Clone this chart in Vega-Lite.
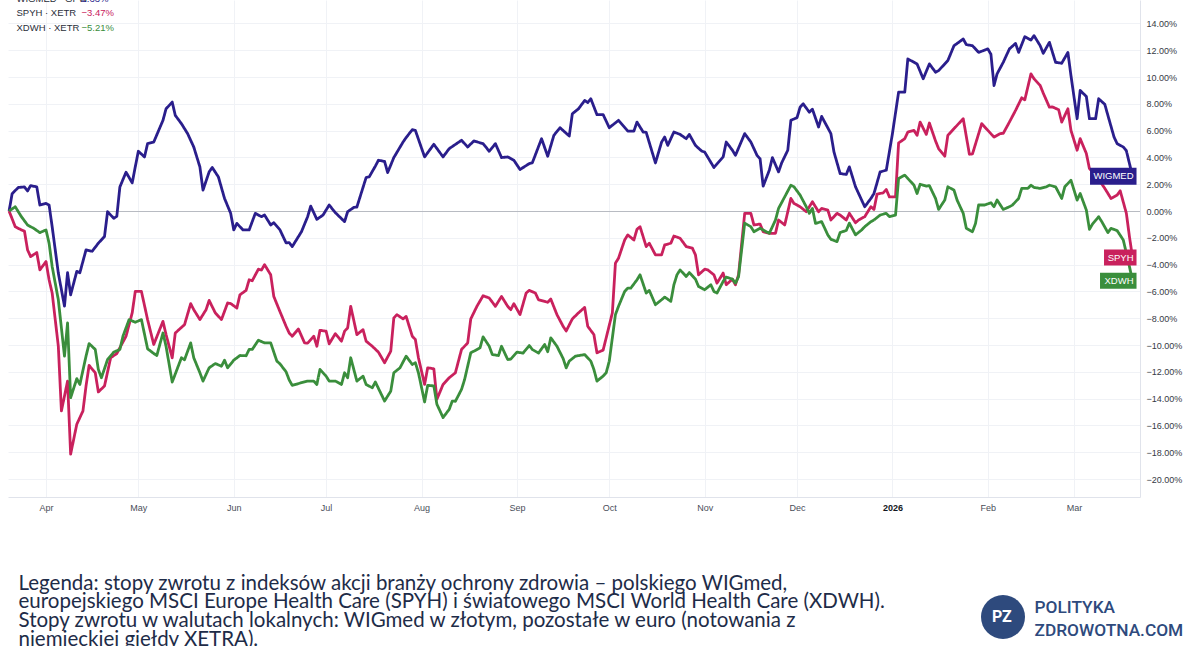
{
"$schema": "https://vega.github.io/schema/vega-lite/v6.json",
"width": 1132, "height": 497,
"autosize": {"type": "none"},
"padding": {"left": 8, "top": 0, "right": 60, "bottom": 149},
"background": "white",
"config": {"view": {"stroke": null}, "font": "Liberation Sans"},
"datasets": {
"lines": [
{"date":"2025-03-20","series":"WIGMED","value":0},{"date":"2025-03-21","series":"WIGMED","value":1.3},{"date":"2025-03-23","series":"WIGMED","value":1.76},{"date":"2025-03-25","series":"WIGMED","value":1.8},{"date":"2025-03-26","series":"WIGMED","value":1.5},{"date":"2025-03-27","series":"WIGMED","value":1.9},{"date":"2025-03-29","series":"WIGMED","value":1.8},{"date":"2025-03-30","series":"WIGMED","value":0.45},{"date":"2025-04-01","series":"WIGMED","value":0.57},{"date":"2025-04-02","series":"WIGMED","value":0.45},{"date":"2025-04-03","series":"WIGMED","value":-1.17},{"date":"2025-04-05","series":"WIGMED","value":-4.63},{"date":"2025-04-07","series":"WIGMED","value":-7.1},{"date":"2025-04-08","series":"WIGMED","value":-4.6},{"date":"2025-04-09","series":"WIGMED","value":-6.25},{"date":"2025-04-11","series":"WIGMED","value":-4.5},{"date":"2025-04-12","series":"WIGMED","value":-4.6},{"date":"2025-04-14","series":"WIGMED","value":-2.9},{"date":"2025-04-16","series":"WIGMED","value":-3.0},{"date":"2025-04-18","series":"WIGMED","value":-2.4},{"date":"2025-04-20","series":"WIGMED","value":-1.9},{"date":"2025-04-21","series":"WIGMED","value":-0.05},{"date":"2025-04-23","series":"WIGMED","value":-0.54},{"date":"2025-04-24","series":"WIGMED","value":-0.4},{"date":"2025-04-25","series":"WIGMED","value":1.8},{"date":"2025-04-27","series":"WIGMED","value":2.9},{"date":"2025-04-29","series":"WIGMED","value":2.1},{"date":"2025-04-30","series":"WIGMED","value":3.3},{"date":"2025-05-01","series":"WIGMED","value":4.46},{"date":"2025-05-03","series":"WIGMED","value":4.04},{"date":"2025-05-04","series":"WIGMED","value":5.03},{"date":"2025-05-06","series":"WIGMED","value":5.15},{"date":"2025-05-09","series":"WIGMED","value":6.77},{"date":"2025-05-10","series":"WIGMED","value":7.63},{"date":"2025-05-12","series":"WIGMED","value":8.13},{"date":"2025-05-13","series":"WIGMED","value":7.14},{"date":"2025-05-15","series":"WIGMED","value":6.52},{"date":"2025-05-17","series":"WIGMED","value":5.78},{"date":"2025-05-19","series":"WIGMED","value":4.78},{"date":"2025-05-21","series":"WIGMED","value":3.29},{"date":"2025-05-22","series":"WIGMED","value":1.56},{"date":"2025-05-24","series":"WIGMED","value":2.92},{"date":"2025-05-25","series":"WIGMED","value":3.25},{"date":"2025-05-27","series":"WIGMED","value":2.55},{"date":"2025-05-29","series":"WIGMED","value":0.94},{"date":"2025-05-31","series":"WIGMED","value":-0.17},{"date":"2025-06-01","series":"WIGMED","value":-1.41},{"date":"2025-06-02","series":"WIGMED","value":-0.92},{"date":"2025-06-04","series":"WIGMED","value":-1.41},{"date":"2025-06-06","series":"WIGMED","value":-1.41},{"date":"2025-06-08","series":"WIGMED","value":-0.17},{"date":"2025-06-10","series":"WIGMED","value":-0.42},{"date":"2025-06-11","series":"WIGMED","value":-0.3},{"date":"2025-06-13","series":"WIGMED","value":-1.04},{"date":"2025-06-14","series":"WIGMED","value":-0.87},{"date":"2025-06-16","series":"WIGMED","value":-1.4},{"date":"2025-06-18","series":"WIGMED","value":-2.38},{"date":"2025-06-19","series":"WIGMED","value":-2.35},{"date":"2025-06-20","series":"WIGMED","value":-2.65},{"date":"2025-06-23","series":"WIGMED","value":-1.54},{"date":"2025-06-25","series":"WIGMED","value":-0.42},{"date":"2025-06-26","series":"WIGMED","value":0.37},{"date":"2025-06-28","series":"WIGMED","value":-0.62},{"date":"2025-06-30","series":"WIGMED","value":-0.3},{"date":"2025-07-02","series":"WIGMED","value":0.45},{"date":"2025-07-04","series":"WIGMED","value":-0.12},{"date":"2025-07-07","series":"WIGMED","value":-0.79},{"date":"2025-07-08","series":"WIGMED","value":-0.05},{"date":"2025-07-10","series":"WIGMED","value":0.27},{"date":"2025-07-11","series":"WIGMED","value":0.3},{"date":"2025-07-14","series":"WIGMED","value":2.5},{"date":"2025-07-15","series":"WIGMED","value":2.55},{"date":"2025-07-17","series":"WIGMED","value":3.35},{"date":"2025-07-18","series":"WIGMED","value":3.79},{"date":"2025-07-20","series":"WIGMED","value":3.7},{"date":"2025-07-21","series":"WIGMED","value":2.87},{"date":"2025-07-23","series":"WIGMED","value":3.99},{"date":"2025-07-26","series":"WIGMED","value":5.15},{"date":"2025-07-27","series":"WIGMED","value":5.48},{"date":"2025-07-29","series":"WIGMED","value":6.07},{"date":"2025-07-30","series":"WIGMED","value":6.02},{"date":"2025-08-02","series":"WIGMED","value":4.04},{"date":"2025-08-05","series":"WIGMED","value":4.98},{"date":"2025-08-08","series":"WIGMED","value":4.04},{"date":"2025-08-10","series":"WIGMED","value":4.66},{"date":"2025-08-14","series":"WIGMED","value":5.28},{"date":"2025-08-16","series":"WIGMED","value":4.78},{"date":"2025-08-18","series":"WIGMED","value":5.23},{"date":"2025-08-21","series":"WIGMED","value":5.03},{"date":"2025-08-23","series":"WIGMED","value":4.46},{"date":"2025-08-25","series":"WIGMED","value":5.03},{"date":"2025-08-27","series":"WIGMED","value":3.99},{"date":"2025-08-29","series":"WIGMED","value":4.04},{"date":"2025-08-31","series":"WIGMED","value":3.79},{"date":"2025-09-02","series":"WIGMED","value":3.1},{"date":"2025-09-05","series":"WIGMED","value":3.54},{"date":"2025-09-06","series":"WIGMED","value":3.6},{"date":"2025-09-09","series":"WIGMED","value":5.4},{"date":"2025-09-11","series":"WIGMED","value":4.09},{"date":"2025-09-13","series":"WIGMED","value":5.65},{"date":"2025-09-15","series":"WIGMED","value":6.22},{"date":"2025-09-18","series":"WIGMED","value":5.6},{"date":"2025-09-19","series":"WIGMED","value":7.26},{"date":"2025-09-21","series":"WIGMED","value":7.63},{"date":"2025-09-23","series":"WIGMED","value":8.25},{"date":"2025-09-24","series":"WIGMED","value":8.1},{"date":"2025-09-25","series":"WIGMED","value":8.38},{"date":"2025-09-27","series":"WIGMED","value":7.19},{"date":"2025-09-29","series":"WIGMED","value":7.2},{"date":"2025-10-01","series":"WIGMED","value":6.22},{"date":"2025-10-04","series":"WIGMED","value":6.77},{"date":"2025-10-07","series":"WIGMED","value":5.97},{"date":"2025-10-09","series":"WIGMED","value":5.97},{"date":"2025-10-10","series":"WIGMED","value":6.64},{"date":"2025-10-12","series":"WIGMED","value":5.9},{"date":"2025-10-13","series":"WIGMED","value":5.87},{"date":"2025-10-16","series":"WIGMED","value":3.59},{"date":"2025-10-18","series":"WIGMED","value":5.15},{"date":"2025-10-19","series":"WIGMED","value":5.52},{"date":"2025-10-20","series":"WIGMED","value":4.9},{"date":"2025-10-22","series":"WIGMED","value":5.9},{"date":"2025-10-24","series":"WIGMED","value":5.72},{"date":"2025-10-26","series":"WIGMED","value":5.4},{"date":"2025-10-27","series":"WIGMED","value":5.72},{"date":"2025-10-29","series":"WIGMED","value":4.9},{"date":"2025-10-31","series":"WIGMED","value":4.48},{"date":"2025-11-01","series":"WIGMED","value":4.4},{"date":"2025-11-04","series":"WIGMED","value":3.25},{"date":"2025-11-07","series":"WIGMED","value":4.04},{"date":"2025-11-08","series":"WIGMED","value":5.15},{"date":"2025-11-10","series":"WIGMED","value":4.54},{"date":"2025-11-11","series":"WIGMED","value":4.16},{"date":"2025-11-14","series":"WIGMED","value":5.78},{"date":"2025-11-16","series":"WIGMED","value":5.15},{"date":"2025-11-18","series":"WIGMED","value":4.16},{"date":"2025-11-19","series":"WIGMED","value":3.9},{"date":"2025-11-20","series":"WIGMED","value":1.86},{"date":"2025-11-22","series":"WIGMED","value":3.05},{"date":"2025-11-23","series":"WIGMED","value":3.99},{"date":"2025-11-25","series":"WIGMED","value":2.92},{"date":"2025-11-26","series":"WIGMED","value":3.59},{"date":"2025-11-28","series":"WIGMED","value":4.54},{"date":"2025-11-29","series":"WIGMED","value":6.77},{"date":"2025-12-01","series":"WIGMED","value":6.97},{"date":"2025-12-02","series":"WIGMED","value":7.75},{"date":"2025-12-03","series":"WIGMED","value":8.0},{"date":"2025-12-05","series":"WIGMED","value":7.38},{"date":"2025-12-06","series":"WIGMED","value":7.6},{"date":"2025-12-08","series":"WIGMED","value":6.27},{"date":"2025-12-09","series":"WIGMED","value":7.06},{"date":"2025-12-12","series":"WIGMED","value":5.78},{"date":"2025-12-13","series":"WIGMED","value":4.41},{"date":"2025-12-15","series":"WIGMED","value":2.8},{"date":"2025-12-17","series":"WIGMED","value":2.73},{"date":"2025-12-18","series":"WIGMED","value":3.3},{"date":"2025-12-20","series":"WIGMED","value":1.81},{"date":"2025-12-23","series":"WIGMED","value":0.32},{"date":"2025-12-25","series":"WIGMED","value":0.94},{"date":"2025-12-26","series":"WIGMED","value":1.31},{"date":"2025-12-28","series":"WIGMED","value":2.92},{"date":"2025-12-30","series":"WIGMED","value":3.05},{"date":"2026-01-01","series":"WIGMED","value":5.78},{"date":"2026-01-03","series":"WIGMED","value":8.87},{"date":"2026-01-05","series":"WIGMED","value":8.87},{"date":"2026-01-06","series":"WIGMED","value":11.35},{"date":"2026-01-09","series":"WIGMED","value":10.98},{"date":"2026-01-11","series":"WIGMED","value":9.87},{"date":"2026-01-13","series":"WIGMED","value":10.98},{"date":"2026-01-15","series":"WIGMED","value":10.36},{"date":"2026-01-16","series":"WIGMED","value":10.48},{"date":"2026-01-19","series":"WIGMED","value":11.23},{"date":"2026-01-21","series":"WIGMED","value":12.34},{"date":"2026-01-24","series":"WIGMED","value":12.84},{"date":"2026-01-25","series":"WIGMED","value":12.42},{"date":"2026-01-27","series":"WIGMED","value":12.34},{"date":"2026-01-29","series":"WIGMED","value":11.84},{"date":"2026-02-01","series":"WIGMED","value":12.1},{"date":"2026-02-02","series":"WIGMED","value":11.7},{"date":"2026-02-03","series":"WIGMED","value":9.37},{"date":"2026-02-04","series":"WIGMED","value":10.24},{"date":"2026-02-06","series":"WIGMED","value":11.1},{"date":"2026-02-08","series":"WIGMED","value":12.1},{"date":"2026-02-10","series":"WIGMED","value":12.51},{"date":"2026-02-11","series":"WIGMED","value":11.84},{"date":"2026-02-13","series":"WIGMED","value":13.01},{"date":"2026-02-15","series":"WIGMED","value":12.76},{"date":"2026-02-16","series":"WIGMED","value":13.09},{"date":"2026-02-18","series":"WIGMED","value":12.34},{"date":"2026-02-19","series":"WIGMED","value":11.77},{"date":"2026-02-21","series":"WIGMED","value":12.59},{"date":"2026-02-23","series":"WIGMED","value":11.1},{"date":"2026-02-25","series":"WIGMED","value":11.03},{"date":"2026-02-27","series":"WIGMED","value":11.84},{"date":"2026-02-28","series":"WIGMED","value":10.11},{"date":"2026-03-02","series":"WIGMED","value":6.89},{"date":"2026-03-03","series":"WIGMED","value":9.0},{"date":"2026-03-05","series":"WIGMED","value":8.55},{"date":"2026-03-06","series":"WIGMED","value":6.89},{"date":"2026-03-08","series":"WIGMED","value":6.89},{"date":"2026-03-09","series":"WIGMED","value":8.38},{"date":"2026-03-11","series":"WIGMED","value":7.96},{"date":"2026-03-12","series":"WIGMED","value":7.14},{"date":"2026-03-14","series":"WIGMED","value":5.52},{"date":"2026-03-15","series":"WIGMED","value":5.03},{"date":"2026-03-17","series":"WIGMED","value":4.78},{"date":"2026-03-18","series":"WIGMED","value":4.5},{"date":"2026-03-20","series":"WIGMED","value":2.6},
{"date":"2025-03-20","series":"SPYH","value":0},{"date":"2025-03-22","series":"SPYH","value":-1.17},{"date":"2025-03-24","series":"SPYH","value":-1.41},{"date":"2025-03-25","series":"SPYH","value":-1.5},{"date":"2025-03-26","series":"SPYH","value":-2.9},{"date":"2025-03-27","series":"SPYH","value":-3.4},{"date":"2025-03-29","series":"SPYH","value":-3.1},{"date":"2025-03-30","series":"SPYH","value":-4.39},{"date":"2025-04-01","series":"SPYH","value":-3.77},{"date":"2025-04-02","series":"SPYH","value":-5.13},{"date":"2025-04-03","series":"SPYH","value":-6.12},{"date":"2025-04-05","series":"SPYH","value":-10.09},{"date":"2025-04-06","series":"SPYH","value":-14.92},{"date":"2025-04-08","series":"SPYH","value":-12.69},{"date":"2025-04-09","series":"SPYH","value":-18.14},{"date":"2025-04-11","series":"SPYH","value":-15.91},{"date":"2025-04-13","series":"SPYH","value":-14.92},{"date":"2025-04-14","series":"SPYH","value":-13.06},{"date":"2025-04-15","series":"SPYH","value":-11.52},{"date":"2025-04-17","series":"SPYH","value":-12.07},{"date":"2025-04-18","series":"SPYH","value":-13.5},{"date":"2025-04-20","series":"SPYH","value":-13.06},{"date":"2025-04-22","series":"SPYH","value":-10.95},{"date":"2025-04-24","series":"SPYH","value":-10.63},{"date":"2025-04-27","series":"SPYH","value":-9.34},{"date":"2025-04-29","series":"SPYH","value":-7.6},{"date":"2025-04-30","series":"SPYH","value":-6.0},{"date":"2025-05-02","series":"SPYH","value":-6.0},{"date":"2025-05-04","series":"SPYH","value":-8.1},{"date":"2025-05-06","series":"SPYH","value":-9.96},{"date":"2025-05-09","series":"SPYH","value":-8.23},{"date":"2025-05-10","series":"SPYH","value":-9.22},{"date":"2025-05-12","series":"SPYH","value":-10.95},{"date":"2025-05-13","series":"SPYH","value":-9.1},{"date":"2025-05-16","series":"SPYH","value":-8.48},{"date":"2025-05-18","series":"SPYH","value":-6.91},{"date":"2025-05-19","series":"SPYH","value":-7.36},{"date":"2025-05-21","series":"SPYH","value":-8.1},{"date":"2025-05-23","series":"SPYH","value":-7.36},{"date":"2025-05-24","series":"SPYH","value":-6.67},{"date":"2025-05-26","series":"SPYH","value":-7.6},{"date":"2025-05-28","series":"SPYH","value":-8.1},{"date":"2025-05-30","series":"SPYH","value":-6.86},{"date":"2025-05-31","series":"SPYH","value":-6.9},{"date":"2025-06-02","series":"SPYH","value":-7.24},{"date":"2025-06-03","series":"SPYH","value":-6.25},{"date":"2025-06-05","series":"SPYH","value":-5.92},{"date":"2025-06-06","series":"SPYH","value":-5.13},{"date":"2025-06-07","series":"SPYH","value":-5.2},{"date":"2025-06-09","series":"SPYH","value":-4.34},{"date":"2025-06-10","series":"SPYH","value":-4.4},{"date":"2025-06-11","series":"SPYH","value":-4.0},{"date":"2025-06-13","series":"SPYH","value":-4.76},{"date":"2025-06-14","series":"SPYH","value":-6.37},{"date":"2025-06-16","series":"SPYH","value":-7.5},{"date":"2025-06-18","series":"SPYH","value":-8.6},{"date":"2025-06-19","series":"SPYH","value":-9.1},{"date":"2025-06-20","series":"SPYH","value":-9.34},{"date":"2025-06-22","series":"SPYH","value":-8.8},{"date":"2025-06-24","series":"SPYH","value":-9.84},{"date":"2025-06-25","series":"SPYH","value":-9.86},{"date":"2025-06-27","series":"SPYH","value":-9.34},{"date":"2025-06-28","series":"SPYH","value":-10.09},{"date":"2025-06-29","series":"SPYH","value":-8.9},{"date":"2025-07-01","series":"SPYH","value":-8.97},{"date":"2025-07-02","series":"SPYH","value":-9.91},{"date":"2025-07-04","series":"SPYH","value":-9.15},{"date":"2025-07-06","series":"SPYH","value":-9.71},{"date":"2025-07-07","series":"SPYH","value":-8.97},{"date":"2025-07-08","series":"SPYH","value":-8.72},{"date":"2025-07-09","series":"SPYH","value":-7.11},{"date":"2025-07-11","series":"SPYH","value":-9.22},{"date":"2025-07-13","series":"SPYH","value":-8.85},{"date":"2025-07-14","series":"SPYH","value":-9.71},{"date":"2025-07-16","series":"SPYH","value":-10.09},{"date":"2025-07-18","series":"SPYH","value":-10.53},{"date":"2025-07-20","series":"SPYH","value":-11.32},{"date":"2025-07-22","series":"SPYH","value":-10.46},{"date":"2025-07-23","series":"SPYH","value":-7.98},{"date":"2025-07-24","series":"SPYH","value":-7.73},{"date":"2025-07-26","series":"SPYH","value":-8.05},{"date":"2025-07-27","series":"SPYH","value":-7.86},{"date":"2025-07-29","series":"SPYH","value":-9.34},{"date":"2025-07-30","series":"SPYH","value":-9.59},{"date":"2025-07-31","series":"SPYH","value":-10.95},{"date":"2025-08-02","series":"SPYH","value":-12.94},{"date":"2025-08-03","series":"SPYH","value":-11.7},{"date":"2025-08-05","series":"SPYH","value":-11.77},{"date":"2025-08-06","series":"SPYH","value":-14.05},{"date":"2025-08-08","series":"SPYH","value":-12.94},{"date":"2025-08-10","series":"SPYH","value":-12.44},{"date":"2025-08-12","series":"SPYH","value":-12.07},{"date":"2025-08-14","series":"SPYH","value":-10.33},{"date":"2025-08-16","series":"SPYH","value":-9.84},{"date":"2025-08-17","series":"SPYH","value":-8.05},{"date":"2025-08-19","series":"SPYH","value":-7.11},{"date":"2025-08-21","series":"SPYH","value":-6.32},{"date":"2025-08-23","series":"SPYH","value":-6.49},{"date":"2025-08-25","series":"SPYH","value":-7.11},{"date":"2025-08-27","series":"SPYH","value":-6.37},{"date":"2025-08-29","series":"SPYH","value":-7.11},{"date":"2025-08-30","series":"SPYH","value":-7.36},{"date":"2025-08-31","series":"SPYH","value":-6.91},{"date":"2025-09-02","series":"SPYH","value":-7.73},{"date":"2025-09-04","series":"SPYH","value":-6.12},{"date":"2025-09-05","series":"SPYH","value":-5.92},{"date":"2025-09-07","series":"SPYH","value":-6.12},{"date":"2025-09-08","series":"SPYH","value":-6.62},{"date":"2025-09-11","series":"SPYH","value":-6.81},{"date":"2025-09-12","series":"SPYH","value":-6.57},{"date":"2025-09-14","series":"SPYH","value":-7.73},{"date":"2025-09-16","series":"SPYH","value":-8.6},{"date":"2025-09-17","series":"SPYH","value":-8.95},{"date":"2025-09-19","series":"SPYH","value":-8.05},{"date":"2025-09-21","series":"SPYH","value":-7.6},{"date":"2025-09-23","series":"SPYH","value":-7.19},{"date":"2025-09-24","series":"SPYH","value":-8.6},{"date":"2025-09-26","series":"SPYH","value":-9.22},{"date":"2025-09-27","series":"SPYH","value":-10.58},{"date":"2025-09-29","series":"SPYH","value":-10.38},{"date":"2025-09-30","series":"SPYH","value":-9.46},{"date":"2025-10-02","series":"SPYH","value":-7.6},{"date":"2025-10-03","series":"SPYH","value":-3.89},{"date":"2025-10-04","series":"SPYH","value":-3.52},{"date":"2025-10-06","series":"SPYH","value":-2.16},{"date":"2025-10-07","series":"SPYH","value":-1.78},{"date":"2025-10-09","series":"SPYH","value":-2.16},{"date":"2025-10-10","series":"SPYH","value":-1.36},{"date":"2025-10-11","series":"SPYH","value":-1.17},{"date":"2025-10-13","series":"SPYH","value":-2.65},{"date":"2025-10-14","series":"SPYH","value":-2.4},{"date":"2025-10-16","series":"SPYH","value":-3.27},{"date":"2025-10-18","series":"SPYH","value":-3.27},{"date":"2025-10-19","series":"SPYH","value":-2.53},{"date":"2025-10-21","series":"SPYH","value":-2.4},{"date":"2025-10-22","series":"SPYH","value":-1.86},{"date":"2025-10-24","series":"SPYH","value":-2.03},{"date":"2025-10-26","series":"SPYH","value":-2.65},{"date":"2025-10-28","series":"SPYH","value":-2.77},{"date":"2025-10-29","series":"SPYH","value":-3.27},{"date":"2025-10-30","series":"SPYH","value":-4.76},{"date":"2025-11-01","series":"SPYH","value":-4.34},{"date":"2025-11-02","series":"SPYH","value":-4.39},{"date":"2025-11-04","series":"SPYH","value":-4.76},{"date":"2025-11-05","series":"SPYH","value":-5.38},{"date":"2025-11-07","series":"SPYH","value":-4.63},{"date":"2025-11-08","series":"SPYH","value":-5.5},{"date":"2025-11-10","series":"SPYH","value":-5.08},{"date":"2025-11-11","series":"SPYH","value":-5.5},{"date":"2025-11-12","series":"SPYH","value":-4.76},{"date":"2025-11-14","series":"SPYH","value":-0.17},{"date":"2025-11-16","series":"SPYH","value":-0.17},{"date":"2025-11-17","series":"SPYH","value":-1.04},{"date":"2025-11-19","series":"SPYH","value":-0.97},{"date":"2025-11-20","series":"SPYH","value":-1.54},{"date":"2025-11-22","series":"SPYH","value":-1.66},{"date":"2025-11-24","series":"SPYH","value":-1.66},{"date":"2025-11-25","series":"SPYH","value":-0.67},{"date":"2025-11-27","series":"SPYH","value":-1.04},{"date":"2025-11-29","series":"SPYH","value":0.94},{"date":"2025-11-30","series":"SPYH","value":0.57},{"date":"2025-12-02","series":"SPYH","value":0.32},{"date":"2025-12-04","series":"SPYH","value":-0.05},{"date":"2025-12-06","series":"SPYH","value":0.69},{"date":"2025-12-08","series":"SPYH","value":-0.05},{"date":"2025-12-09","series":"SPYH","value":0.2},{"date":"2025-12-11","series":"SPYH","value":0.07},{"date":"2025-12-12","series":"SPYH","value":-0.67},{"date":"2025-12-14","series":"SPYH","value":-0.17},{"date":"2025-12-15","series":"SPYH","value":-0.3},{"date":"2025-12-17","series":"SPYH","value":-0.67},{"date":"2025-12-18","series":"SPYH","value":-0.17},{"date":"2025-12-20","series":"SPYH","value":-0.87},{"date":"2025-12-21","series":"SPYH","value":-0.67},{"date":"2025-12-23","series":"SPYH","value":-0.42},{"date":"2025-12-25","series":"SPYH","value":0.32},{"date":"2025-12-26","series":"SPYH","value":0.12},{"date":"2025-12-27","series":"SPYH","value":1.26},{"date":"2025-12-29","series":"SPYH","value":1.36},{"date":"2025-12-30","series":"SPYH","value":1.61},{"date":"2025-12-31","series":"SPYH","value":1.06},{"date":"2026-01-02","series":"SPYH","value":1.06},{"date":"2026-01-03","series":"SPYH","value":5.08},{"date":"2026-01-05","series":"SPYH","value":5.4},{"date":"2026-01-06","series":"SPYH","value":5.9},{"date":"2026-01-08","series":"SPYH","value":6.02},{"date":"2026-01-09","series":"SPYH","value":5.65},{"date":"2026-01-10","series":"SPYH","value":6.64},{"date":"2026-01-12","series":"SPYH","value":5.72},{"date":"2026-01-13","series":"SPYH","value":6.57},{"date":"2026-01-15","series":"SPYH","value":5.23},{"date":"2026-01-16","series":"SPYH","value":4.66},{"date":"2026-01-18","series":"SPYH","value":4.09},{"date":"2026-01-19","series":"SPYH","value":5.65},{"date":"2026-01-21","series":"SPYH","value":6.15},{"date":"2026-01-24","series":"SPYH","value":6.89},{"date":"2026-01-26","series":"SPYH","value":4.24},{"date":"2026-01-27","series":"SPYH","value":4.26},{"date":"2026-01-30","series":"SPYH","value":6.52},{"date":"2026-02-01","series":"SPYH","value":6.02},{"date":"2026-02-03","series":"SPYH","value":5.52},{"date":"2026-02-05","series":"SPYH","value":5.78},{"date":"2026-02-06","series":"SPYH","value":5.8},{"date":"2026-02-08","series":"SPYH","value":6.64},{"date":"2026-02-10","series":"SPYH","value":7.51},{"date":"2026-02-12","series":"SPYH","value":8.45},{"date":"2026-02-13","series":"SPYH","value":8.3},{"date":"2026-02-15","series":"SPYH","value":10.24},{"date":"2026-02-16","series":"SPYH","value":9.87},{"date":"2026-02-18","series":"SPYH","value":9.37},{"date":"2026-02-19","series":"SPYH","value":8.8},{"date":"2026-02-21","series":"SPYH","value":7.75},{"date":"2026-02-22","series":"SPYH","value":7.77},{"date":"2026-02-24","series":"SPYH","value":7.56},{"date":"2026-02-25","series":"SPYH","value":6.64},{"date":"2026-02-27","series":"SPYH","value":7.63},{"date":"2026-02-28","series":"SPYH","value":6.02},{"date":"2026-03-02","series":"SPYH","value":4.54},{"date":"2026-03-03","series":"SPYH","value":5.4},{"date":"2026-03-05","series":"SPYH","value":4.29},{"date":"2026-03-06","series":"SPYH","value":3.17},{"date":"2026-03-07","series":"SPYH","value":2.92},{"date":"2026-03-09","series":"SPYH","value":2.36},{"date":"2026-03-11","series":"SPYH","value":1.69},{"date":"2026-03-13","series":"SPYH","value":0.94},{"date":"2026-03-15","series":"SPYH","value":1.19},{"date":"2026-03-16","series":"SPYH","value":1.51},{"date":"2026-03-18","series":"SPYH","value":-0.17},{"date":"2026-03-19","series":"SPYH","value":-1.91},{"date":"2026-03-20","series":"SPYH","value":-3.47},
{"date":"2025-03-20","series":"XDWH","value":0},{"date":"2025-03-22","series":"XDWH","value":0.32},{"date":"2025-03-24","series":"XDWH","value":-0.42},{"date":"2025-03-26","series":"XDWH","value":-1.04},{"date":"2025-03-28","series":"XDWH","value":-1.29},{"date":"2025-03-30","series":"XDWH","value":-1.61},{"date":"2025-04-01","series":"XDWH","value":-1.41},{"date":"2025-04-02","series":"XDWH","value":-2.4},{"date":"2025-04-03","series":"XDWH","value":-4.14},{"date":"2025-04-05","series":"XDWH","value":-6.62},{"date":"2025-04-07","series":"XDWH","value":-10.83},{"date":"2025-04-08","series":"XDWH","value":-8.35},{"date":"2025-04-09","series":"XDWH","value":-13.93},{"date":"2025-04-11","series":"XDWH","value":-12.51},{"date":"2025-04-12","series":"XDWH","value":-12.94},{"date":"2025-04-14","series":"XDWH","value":-10.83},{"date":"2025-04-15","series":"XDWH","value":-9.89},{"date":"2025-04-17","series":"XDWH","value":-10.33},{"date":"2025-04-18","series":"XDWH","value":-11.82},{"date":"2025-04-19","series":"XDWH","value":-12.44},{"date":"2025-04-21","series":"XDWH","value":-11.08},{"date":"2025-04-23","series":"XDWH","value":-10.53},{"date":"2025-04-25","series":"XDWH","value":-10.33},{"date":"2025-04-26","series":"XDWH","value":-9.34},{"date":"2025-04-28","series":"XDWH","value":-8.1},{"date":"2025-04-30","series":"XDWH","value":-8.3},{"date":"2025-05-02","series":"XDWH","value":-8.1},{"date":"2025-05-04","series":"XDWH","value":-10.28},{"date":"2025-05-06","series":"XDWH","value":-10.63},{"date":"2025-05-07","series":"XDWH","value":-10.78},{"date":"2025-05-09","series":"XDWH","value":-9.1},{"date":"2025-05-10","series":"XDWH","value":-10.09},{"date":"2025-05-12","series":"XDWH","value":-12.76},{"date":"2025-05-15","series":"XDWH","value":-10.95},{"date":"2025-05-16","series":"XDWH","value":-11.1},{"date":"2025-05-18","series":"XDWH","value":-9.84},{"date":"2025-05-19","series":"XDWH","value":-10.95},{"date":"2025-05-21","series":"XDWH","value":-12.07},{"date":"2025-05-22","series":"XDWH","value":-12.69},{"date":"2025-05-24","series":"XDWH","value":-11.7},{"date":"2025-05-26","series":"XDWH","value":-11.38},{"date":"2025-05-28","series":"XDWH","value":-11.58},{"date":"2025-05-29","series":"XDWH","value":-11.13},{"date":"2025-05-30","series":"XDWH","value":-11.7},{"date":"2025-06-01","series":"XDWH","value":-11.13},{"date":"2025-06-03","series":"XDWH","value":-10.78},{"date":"2025-06-05","series":"XDWH","value":-10.8},{"date":"2025-06-06","series":"XDWH","value":-10.33},{"date":"2025-06-07","series":"XDWH","value":-10.33},{"date":"2025-06-09","series":"XDWH","value":-9.64},{"date":"2025-06-11","series":"XDWH","value":-9.84},{"date":"2025-06-13","series":"XDWH","value":-9.84},{"date":"2025-06-15","series":"XDWH","value":-11.2},{"date":"2025-06-16","series":"XDWH","value":-11.4},{"date":"2025-06-18","series":"XDWH","value":-12.0},{"date":"2025-06-19","series":"XDWH","value":-12.6},{"date":"2025-06-20","series":"XDWH","value":-13.01},{"date":"2025-06-23","series":"XDWH","value":-12.81},{"date":"2025-06-25","series":"XDWH","value":-12.69},{"date":"2025-06-27","series":"XDWH","value":-12.69},{"date":"2025-06-28","series":"XDWH","value":-12.94},{"date":"2025-06-29","series":"XDWH","value":-11.82},{"date":"2025-07-01","series":"XDWH","value":-12.32},{"date":"2025-07-02","series":"XDWH","value":-12.69},{"date":"2025-07-04","series":"XDWH","value":-12.69},{"date":"2025-07-06","series":"XDWH","value":-12.94},{"date":"2025-07-07","series":"XDWH","value":-12.07},{"date":"2025-07-08","series":"XDWH","value":-12.44},{"date":"2025-07-09","series":"XDWH","value":-10.95},{"date":"2025-07-11","series":"XDWH","value":-12.69},{"date":"2025-07-13","series":"XDWH","value":-12.32},{"date":"2025-07-14","series":"XDWH","value":-12.94},{"date":"2025-07-16","series":"XDWH","value":-13.19},{"date":"2025-07-17","series":"XDWH","value":-12.76},{"date":"2025-07-20","series":"XDWH","value":-14.18},{"date":"2025-07-22","series":"XDWH","value":-13.44},{"date":"2025-07-23","series":"XDWH","value":-12.07},{"date":"2025-07-25","series":"XDWH","value":-11.7},{"date":"2025-07-27","series":"XDWH","value":-10.83},{"date":"2025-07-29","series":"XDWH","value":-11.45},{"date":"2025-07-30","series":"XDWH","value":-11.32},{"date":"2025-07-31","series":"XDWH","value":-12.07},{"date":"2025-08-02","series":"XDWH","value":-14.25},{"date":"2025-08-03","series":"XDWH","value":-13.01},{"date":"2025-08-05","series":"XDWH","value":-13.05},{"date":"2025-08-06","series":"XDWH","value":-14.42},{"date":"2025-08-08","series":"XDWH","value":-15.41},{"date":"2025-08-10","series":"XDWH","value":-14.8},{"date":"2025-08-11","series":"XDWH","value":-14.18},{"date":"2025-08-12","series":"XDWH","value":-14.2},{"date":"2025-08-14","series":"XDWH","value":-13.31},{"date":"2025-08-15","series":"XDWH","value":-12.57},{"date":"2025-08-17","series":"XDWH","value":-10.58},{"date":"2025-08-18","series":"XDWH","value":-10.46},{"date":"2025-08-20","series":"XDWH","value":-10.21},{"date":"2025-08-21","series":"XDWH","value":-9.39},{"date":"2025-08-23","series":"XDWH","value":-10.09},{"date":"2025-08-24","series":"XDWH","value":-10.71},{"date":"2025-08-26","series":"XDWH","value":-10.78},{"date":"2025-08-27","series":"XDWH","value":-10.09},{"date":"2025-08-29","series":"XDWH","value":-11.08},{"date":"2025-08-30","series":"XDWH","value":-11.05},{"date":"2025-09-01","series":"XDWH","value":-10.53},{"date":"2025-09-03","series":"XDWH","value":-10.6},{"date":"2025-09-05","series":"XDWH","value":-10.04},{"date":"2025-09-06","series":"XDWH","value":-10.33},{"date":"2025-09-08","series":"XDWH","value":-10.6},{"date":"2025-09-10","series":"XDWH","value":-9.96},{"date":"2025-09-11","series":"XDWH","value":-10.5},{"date":"2025-09-12","series":"XDWH","value":-9.46},{"date":"2025-09-14","series":"XDWH","value":-10.09},{"date":"2025-09-16","series":"XDWH","value":-11.0},{"date":"2025-09-17","series":"XDWH","value":-11.7},{"date":"2025-09-18","series":"XDWH","value":-11.2},{"date":"2025-09-20","series":"XDWH","value":-10.83},{"date":"2025-09-23","series":"XDWH","value":-10.71},{"date":"2025-09-25","series":"XDWH","value":-11.2},{"date":"2025-09-26","series":"XDWH","value":-11.82},{"date":"2025-09-27","series":"XDWH","value":-12.69},{"date":"2025-09-29","series":"XDWH","value":-12.32},{"date":"2025-09-30","series":"XDWH","value":-12.07},{"date":"2025-10-01","series":"XDWH","value":-11.2},{"date":"2025-10-03","series":"XDWH","value":-7.73},{"date":"2025-10-04","series":"XDWH","value":-7.11},{"date":"2025-10-06","series":"XDWH","value":-6.0},{"date":"2025-10-07","series":"XDWH","value":-5.75},{"date":"2025-10-08","series":"XDWH","value":-5.75},{"date":"2025-10-10","series":"XDWH","value":-5.13},{"date":"2025-10-11","series":"XDWH","value":-4.76},{"date":"2025-10-13","series":"XDWH","value":-6.12},{"date":"2025-10-14","series":"XDWH","value":-5.92},{"date":"2025-10-16","series":"XDWH","value":-6.99},{"date":"2025-10-18","series":"XDWH","value":-6.62},{"date":"2025-10-19","series":"XDWH","value":-6.42},{"date":"2025-10-21","series":"XDWH","value":-6.74},{"date":"2025-10-22","series":"XDWH","value":-5.5},{"date":"2025-10-23","series":"XDWH","value":-4.76},{"date":"2025-10-24","series":"XDWH","value":-4.39},{"date":"2025-10-26","series":"XDWH","value":-4.88},{"date":"2025-10-27","series":"XDWH","value":-4.59},{"date":"2025-10-29","series":"XDWH","value":-5.08},{"date":"2025-10-30","series":"XDWH","value":-5.63},{"date":"2025-11-01","series":"XDWH","value":-5.87},{"date":"2025-11-03","series":"XDWH","value":-5.5},{"date":"2025-11-04","series":"XDWH","value":-6.0},{"date":"2025-11-05","series":"XDWH","value":-6.12},{"date":"2025-11-07","series":"XDWH","value":-5.25},{"date":"2025-11-08","series":"XDWH","value":-4.93},{"date":"2025-11-10","series":"XDWH","value":-5.08},{"date":"2025-11-11","series":"XDWH","value":-5.38},{"date":"2025-11-12","series":"XDWH","value":-4.9},{"date":"2025-11-14","series":"XDWH","value":-0.9},{"date":"2025-11-16","series":"XDWH","value":-1.17},{"date":"2025-11-17","series":"XDWH","value":-1.54},{"date":"2025-11-19","series":"XDWH","value":-1.29},{"date":"2025-11-21","series":"XDWH","value":-1.54},{"date":"2025-11-22","series":"XDWH","value":-1.66},{"date":"2025-11-24","series":"XDWH","value":-0.67},{"date":"2025-11-25","series":"XDWH","value":0.2},{"date":"2025-11-27","series":"XDWH","value":1.06},{"date":"2025-11-29","series":"XDWH","value":1.93},{"date":"2025-11-30","series":"XDWH","value":1.81},{"date":"2025-12-02","series":"XDWH","value":1.19},{"date":"2025-12-04","series":"XDWH","value":0.32},{"date":"2025-12-05","series":"XDWH","value":-0.17},{"date":"2025-12-06","series":"XDWH","value":0.2},{"date":"2025-12-07","series":"XDWH","value":-0.92},{"date":"2025-12-09","series":"XDWH","value":-0.79},{"date":"2025-12-11","series":"XDWH","value":-1.78},{"date":"2025-12-12","series":"XDWH","value":-2.11},{"date":"2025-12-14","series":"XDWH","value":-2.28},{"date":"2025-12-15","series":"XDWH","value":-1.6},{"date":"2025-12-17","series":"XDWH","value":-1.45},{"date":"2025-12-18","series":"XDWH","value":-0.9},{"date":"2025-12-20","series":"XDWH","value":-1.78},{"date":"2025-12-22","series":"XDWH","value":-1.41},{"date":"2025-12-23","series":"XDWH","value":-1.17},{"date":"2025-12-25","series":"XDWH","value":-0.79},{"date":"2025-12-26","series":"XDWH","value":-0.67},{"date":"2025-12-28","series":"XDWH","value":-0.3},{"date":"2025-12-30","series":"XDWH","value":-0.17},{"date":"2025-12-31","series":"XDWH","value":-0.42},{"date":"2026-01-02","series":"XDWH","value":-0.3},{"date":"2026-01-03","series":"XDWH","value":2.43},{"date":"2026-01-05","series":"XDWH","value":2.68},{"date":"2026-01-06","series":"XDWH","value":2.43},{"date":"2026-01-08","series":"XDWH","value":1.93},{"date":"2026-01-09","series":"XDWH","value":1.31},{"date":"2026-01-10","series":"XDWH","value":2.0},{"date":"2026-01-12","series":"XDWH","value":1.86},{"date":"2026-01-13","series":"XDWH","value":1.9},{"date":"2026-01-15","series":"XDWH","value":0.94},{"date":"2026-01-16","series":"XDWH","value":0.12},{"date":"2026-01-18","series":"XDWH","value":0.82},{"date":"2026-01-19","series":"XDWH","value":1.81},{"date":"2026-01-21","series":"XDWH","value":1.56},{"date":"2026-01-22","series":"XDWH","value":0.82},{"date":"2026-01-24","series":"XDWH","value":-0.17},{"date":"2026-01-25","series":"XDWH","value":-1.29},{"date":"2026-01-27","series":"XDWH","value":-1.54},{"date":"2026-01-28","series":"XDWH","value":-0.92},{"date":"2026-01-29","series":"XDWH","value":0.45},{"date":"2026-01-31","series":"XDWH","value":0.45},{"date":"2026-02-02","series":"XDWH","value":0.62},{"date":"2026-02-03","series":"XDWH","value":0.32},{"date":"2026-02-04","series":"XDWH","value":0.82},{"date":"2026-02-06","series":"XDWH","value":0.12},{"date":"2026-02-08","series":"XDWH","value":0.32},{"date":"2026-02-09","series":"XDWH","value":0.45},{"date":"2026-02-11","series":"XDWH","value":0.94},{"date":"2026-02-12","series":"XDWH","value":1.69},{"date":"2026-02-14","series":"XDWH","value":1.69},{"date":"2026-02-15","series":"XDWH","value":1.93},{"date":"2026-02-16","series":"XDWH","value":1.76},{"date":"2026-02-18","series":"XDWH","value":1.69},{"date":"2026-02-20","series":"XDWH","value":1.81},{"date":"2026-02-21","series":"XDWH","value":1.93},{"date":"2026-02-23","series":"XDWH","value":1.81},{"date":"2026-02-25","series":"XDWH","value":0.94},{"date":"2026-02-26","series":"XDWH","value":1.81},{"date":"2026-02-28","series":"XDWH","value":2.3},{"date":"2026-03-01","series":"XDWH","value":1.56},{"date":"2026-03-02","series":"XDWH","value":0.82},{"date":"2026-03-03","series":"XDWH","value":1.31},{"date":"2026-03-05","series":"XDWH","value":0.07},{"date":"2026-03-06","series":"XDWH","value":-1.36},{"date":"2026-03-07","series":"XDWH","value":-0.97},{"date":"2026-03-09","series":"XDWH","value":-0.42},{"date":"2026-03-10","series":"XDWH","value":-0.79},{"date":"2026-03-12","series":"XDWH","value":-1.61},{"date":"2026-03-13","series":"XDWH","value":-1.29},{"date":"2026-03-15","series":"XDWH","value":-1.46},{"date":"2026-03-17","series":"XDWH","value":-2.16},{"date":"2026-03-18","series":"XDWH","value":-3.15},{"date":"2026-03-19","series":"XDWH","value":-4.14},{"date":"2026-03-20","series":"XDWH","value":-5.21}
],
"ends": [
{"date":"2026-03-20","series":"WIGMED","value":2.6},
{"date":"2026-03-20","series":"SPYH","value":-3.47},
{"date":"2026-03-20","series":"XDWH","value":-5.21}
]
},
"encoding": {
"x": {"field": "date", "type": "temporal",
 "scale": {"type": "utc", "domain": [{"year": 2025, "month": "mar", "date": 19, "hours": 15, "minutes": 36, "utc": true}, {"year": 2026, "month": "mar", "date": 22, "hours": 10, "minutes": 19, "utc": true}]},
 "axis": {"orient": "bottom", "tickCount": {"interval": "month", "step": 1}, "ticks": false, "grid": true, "gridColor": "#f0f2f6", "domain": true, "domainColor": "#e0e3eb",
  "labelExpr": "utcmonth(datum.value) == 0 ? utcFormat(datum.value, '%Y') : utcFormat(datum.value, '%b')",
  "labelFont": "Liberation Sans", "labelFontSize": 9, "labelColor": {"condition": {"test": "utcmonth(datum.value) == 0", "value": "#131722"}, "value": "#4a4e59"},
  "labelFontWeight": {"condition": {"test": "utcmonth(datum.value) == 0", "value": "bold"}, "value": "normal"},
  "labelPadding": 6, "labelFlush": false, "labelOverlap": false,
  "title": ["Legenda: stopy zwrotu z indeksów akcji branży ochrony zdrowia – polskiego WIGmed,", "europejskiego MSCI Europe Health Care (SPYH) i światowego MSCI World Health Care (XDWH).", "Stopy zwrotu w walutach lokalnych: WIGmed w złotym, pozostałe w euro (notowania z", "niemieckiej giełdy XETRA)."],
  "titleFont": "Lato", "titleFontSize": 20.5, "titleFontWeight": "normal", "titleColor": "#1e2c48", "titleLineHeight": 18.7,
  "titleAnchor": "start", "titleAlign": "left", "titleBaseline": "alphabetic", "titleX": 10, "titleY": 92, "titleLimit": 3000}},
"y": {"field": "value", "type": "quantitative",
 "scale": {"domain": [-21.34, 15.75], "nice": false, "zero": false},
 "axis": {"orient": "right", "values": [-20, -18, -16, -14, -12, -10, -8, -6, -4, -2, 0, 2, 4, 6, 8, 10, 12, 14], "ticks": false, "grid": true,
  "gridColor": {"condition": {"test": "datum.value === 0", "value": "#b8bbc2"}, "value": "#f0f2f6"},
  "domain": true, "domainColor": "#e0e3eb",
  "labelExpr": "format(datum.value, '.2f') + '%'", "labelFont": "Liberation Sans", "labelFontSize": 9, "labelColor": "#363a45", "labelPadding": 6, "labelAlign": "left",
  "title": ["POLITYKA", "ZDROWOTNA.COM"], "titleAngle": 0, "titleFont": "Roboto", "titleFontSize": 17.3, "titleFontWeight": 500, "titleColor": "#2e4a7d", "titleLineHeight": 23,
  "titleAlign": "left", "titleBaseline": "alphabetic", "titleX": -106, "titleY": 612, "titleLimit": 3000}}
},
"layer": [
{
"data": {"name": "lines"},
"transform": [{"calculate": "datum.series", "as": "series2"}],
"mark": {"type": "line", "strokeWidth": 2.8, "strokeJoin": "round"},
"encoding": {
"color": {"field": "series", "type": "nominal",
 "scale": {"domain": ["WIGMED", "SPYH", "XDWH"], "range": ["#2a1e8c", "#c9215d", "#3a8e3c"]},
 "legend": {"orient": "none", "legendX": -1, "legendY": -6, "title": null, "padding": 0,
  "labelExpr": "datum.value == 'SPYH' ? 'SPYH · XETR' : datum.value == 'XDWH' ? 'XDWH · XETR' : 'WIGMED · GPW'",
  "labelFont": "Liberation Sans", "labelFontSize": 9.5, "labelColor": "#2a2e39", "labelOffset": 0, "rowPadding": 3.5,
  "symbolSize": 0, "symbolStrokeWidth": 0, "symbolOpacity": 0}},
"strokeDash": {"field": "series2", "type": "nominal",
 "scale": {"range": [[1, 0], [1, 0], [1, 0]]},
 "legend": {"orient": "none", "legendX": 64, "legendY": -6, "title": null, "padding": 0, "values": ["WIGMED", "SPYH", "XDWH"],
  "labelExpr": "datum.value == 'SPYH' ? '−3.47%' : datum.value == 'XDWH' ? '−5.21%' : '2.63%'",
  "labelFont": "Liberation Sans", "labelFontSize": 9.5,
  "labelColor": {"expr": "datum.value == 'SPYH' ? '#c9215d' : datum.value == 'XDWH' ? '#3a8e3c' : '#2a1e8c'"},
  "labelOffset": 0, "rowPadding": 3.5, "symbolSize": 0, "symbolStrokeWidth": 0, "symbolOpacity": 0}}
}
},
{
"data": {"name": "ends"},
"mark": {"type": "point", "filled": true, "size": 4, "strokeWidth": 0},
"encoding": {
"color": {"field": "series", "type": "nominal", "legend": null},
"shape": {"field": "series", "type": "nominal", "legend": null,
 "scale": {"domain": ["WIGMED", "SPYH", "XDWH"], "range": ["M-42.5,-8.5H4V8.5H-42.5Z", "M-28.5,-8H4V8H-28.5Z", "M-32.5,-8H4V8H-32.5Z"]}},
"opacity": {"datum": "PZ", "type": "ordinal", "scale": {"range": [1]},
 "legend": {"orient": "none", "legendX": 973, "legendY": 595, "title": null, "padding": 0,
  "symbolType": "circle", "symbolSize": 1936, "symbolFillColor": "#2e4a7d", "symbolStrokeWidth": 0, "symbolOpacity": 1,
  "labelFont": "Roboto", "labelFontSize": 16, "labelFontWeight": "bold", "labelColor": "white", "labelOffset": -33}}
}
},
{
"data": {"name": "ends"},
"mark": {"type": "text", "align": "right", "baseline": "middle", "dx": 1, "fontSize": 9.5, "font": "Liberation Sans", "color": "white"},
"encoding": {
"text": {"field": "series", "type": "nominal"}
}
}
]
}
